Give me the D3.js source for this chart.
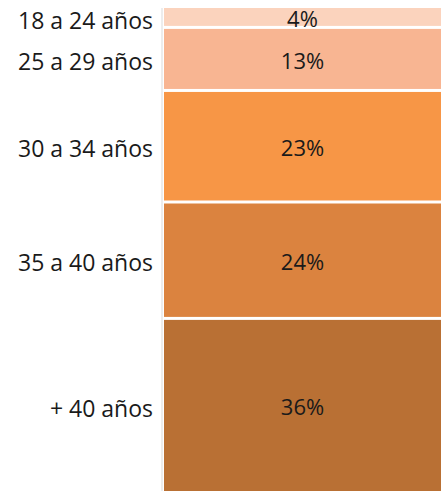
<!DOCTYPE html>
<html>
<head>
<meta charset="utf-8">
<script src="https://cdn.jsdelivr.net/npm/d3@7"></script>
<style>
  body { margin: 0; background: #fff; }
  svg { display: block; }
</style>
</head>
<body>
<div id="chart"></div>
<script>
// age groups, top to bottom
var categories = ["18 a 24 años", "25 a 29 años", "30 a 34 años", "35 a 40 años", "+ 40 años"];
var values = [4, 13, 23, 24, 36];
var colors = ["#fbd3bd", "#f8b592", "#f79646", "#db833f", "#b97034"];

var w = 441, h = 491;
var font = "'Open Sans', 'Liberation Sans', sans-serif";

var svg = d3.select("#chart")
    .append("svg")
    .attr("width", w)
    .attr("height", h);

// cumulative stack
var stacked = [];
var acc = 0;
values.forEach(function (v, i) {
    stacked.push({ name: categories[i], value: v, y0: acc, y1: acc + v, color: colors[i] });
    acc += v;
});

var y = d3.scaleLinear().domain([0, 100]).range([8, 493]);
var x = d3.scaleLinear().domain([0, 1]).range([164, 446]);
var gap = 1.5;

// faint axis line
svg.append("line")
    .attr("x1", 162).attr("x2", 162)
    .attr("y1", y(0)).attr("y2", h)
    .attr("stroke", "#ededed")
    .attr("stroke-width", 2);

var seg = svg.append("g")
    .selectAll("g")
    .data(stacked)
    .enter()
    .append("g");

seg.append("rect")
    .attr("x", x(0))
    .attr("width", x(1) - x(0))
    .attr("y", function (d, i) { return y(d.y0) + (i > 0 ? gap : 0); })
    .attr("height", function (d, i) { return y(d.y1) - y(d.y0) - (i > 0 ? gap : 0) - gap; })
    .attr("fill", function (d) { return d.color; });

// value labels
seg.append("text")
    .attr("x", (x(0) + 441) / 2)
    .attr("y", function (d) { return (y(d.y0) + y(d.y1)) / 2 + 2; })
    .attr("dy", "0.35em")
    .attr("text-anchor", "middle")
    .style("font-family", font)
    .style("font-size", "22px")
    .attr("fill", "#1a1a1a")
    .text(function (d) { return d.value + "%"; });

// category labels on the left
seg.append("text")
    .attr("x", 153)
    .attr("y", function (d) { return (y(d.y0) + y(d.y1)) / 2 + 3; })
    .attr("dy", "0.35em")
    .attr("text-anchor", "end")
    .style("font-family", font)
    .style("font-size", "23px")
    .attr("fill", "#1a1a1a")
    .text(function (d) { return d.name; });
</script>
</body>
</html>
